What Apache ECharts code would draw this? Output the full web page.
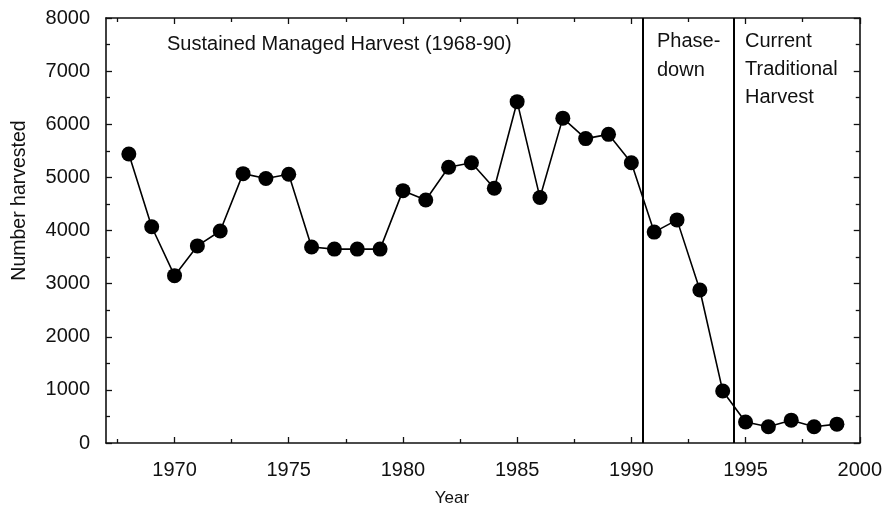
<!DOCTYPE html>
<html>
<head>
<meta charset="utf-8">
<script src="https://cdn.jsdelivr.net/npm/echarts@6/dist/echarts.min.js"></script>
<style>
html,body{margin:0;padding:0;background:#fff;}
#chart{width:885px;height:512px;}
</style>
</head>
<body>
<div id="chart"></div>
<script>
var years = [1968,1969,1970,1971,1972,1973,1974,1975,1976,1977,1978,1979,1980,1981,1982,1983,1984,1985,1986,1987,1988,1989,1990,1991,1992,1993,1994,1995,1996,1997,1998,1999];
var harvested = [5440,4070,3150,3710,3990,5070,4980,5060,3690,3650,3650,3650,4750,4575,5190,5275,4795,6425,4620,6115,5730,5810,5275,3970,4200,2880,980,395,305,430,305,355];
var xMajorTicks = [1970,1975,1980,1985,1990,1995,2000];
var xMinorTicks = [1967.5,1972.5,1977.5,1982.5,1987.5,1992.5,1997.5];
var periodBoundaries = [1990.5,1994.5];

var FONT = '"Liberation Sans", Arial, Helvetica, sans-serif';
var INK = '#111';
function plain(v){ return String(v); }

var chart = echarts.init(document.getElementById('chart'), null, {renderer:'canvas'});

function xAxisBase(pos, ticks, len, showLine) {
  return {
    type:'value', min:1967, max:2000, position:pos,
    axisLine:{show:showLine, onZero:false, lineStyle:{color:INK, width:1.6}},
    axisTick:{show:true, inside:true, length:len, customValues:ticks, lineStyle:{color:INK, width:1.3}},
    axisLabel:{show:false},
    splitLine:{show:false}
  };
}

var xAxes = [
  {
    type:'value', min:1967, max:2000, position:'bottom',
    axisLine:{show:true, onZero:false, lineStyle:{color:INK, width:1.6}},
    axisTick:{show:true, inside:true, length:6, customValues:xMajorTicks, lineStyle:{color:INK, width:1.3}},
    axisLabel:{show:true, customValues:xMajorTicks, formatter:plain, color:INK, fontSize:20, fontFamily:FONT, margin:17},
    splitLine:{show:false},
    name:'Year', nameLocation:'middle', nameGap:47,
    nameTextStyle:{color:INK, fontSize:17, fontFamily:FONT, padding:[0,62,0,0]}
  },
  xAxisBase('bottom', xMinorTicks, 4, false),
  xAxisBase('top', xMajorTicks, 6, true),
  xAxisBase('top', xMinorTicks, 4, false)
];

var yAxes = [
  {
    type:'value', min:0, max:8000, interval:1000, position:'left',
    axisLine:{show:true, onZero:false, lineStyle:{color:INK, width:1.6}},
    axisTick:{show:true, inside:true, length:6, lineStyle:{color:INK, width:1.3}},
    minorTick:{show:true, splitNumber:2, length:4, lineStyle:{color:INK, width:1.3}},
    axisLabel:{show:true, formatter:plain, color:INK, fontSize:20, fontFamily:FONT, margin:16},
    splitLine:{show:false},
    name:'Number harvested', nameLocation:'middle', nameGap:76, nameRotate:90,
    nameTextStyle:{color:INK, fontSize:19.5, fontFamily:FONT, padding:[0,0,0,60]}
  },
  {
    type:'value', min:0, max:8000, interval:1000, position:'right',
    axisLine:{show:true, onZero:false, lineStyle:{color:INK, width:1.6}},
    axisTick:{show:true, inside:true, length:6, lineStyle:{color:INK, width:1.3}},
    minorTick:{show:true, splitNumber:2, length:4, lineStyle:{color:INK, width:1.3}},
    axisLabel:{show:false},
    splitLine:{show:false}
  }
];

var option = {
  backgroundColor:'#fff',
  animation:false,
  grid:{left:106, right:20, top:18, bottom:66.5, containLabel:false},
  xAxis:xAxes,
  yAxis:yAxes,
  series:[{
    type:'line',
    xAxisIndex:0, yAxisIndex:0,
    data:years.map(function(y,i){return [y, harvested[i]];}),
    symbol:'circle', symbolSize:15,
    itemStyle:{color:'#000'},
    lineStyle:{color:'#000', width:1.6},
    z:5,
    markLine:{
      silent:true, symbol:'none',
      label:{show:false},
      lineStyle:{color:'#000', width:2, type:'solid'},
      data:periodBoundaries.map(function(v){return {xAxis:v};})
    }
  }],
  graphic:[
    {type:'text', left:167, top:34, style:{text:'Sustained Managed Harvest (1968-90)', fill:INK, font:'20px '+FONT}},
    {type:'text', left:657, top:27, style:{text:'Phase-\ndown', fill:INK, font:'20px '+FONT, lineHeight:29}},
    {type:'text', left:745, top:27, style:{text:'Current\nTraditional\nHarvest', fill:INK, font:'20px '+FONT, lineHeight:28.3}}
  ]
};
chart.setOption(option);
</script>
</body>
</html>
